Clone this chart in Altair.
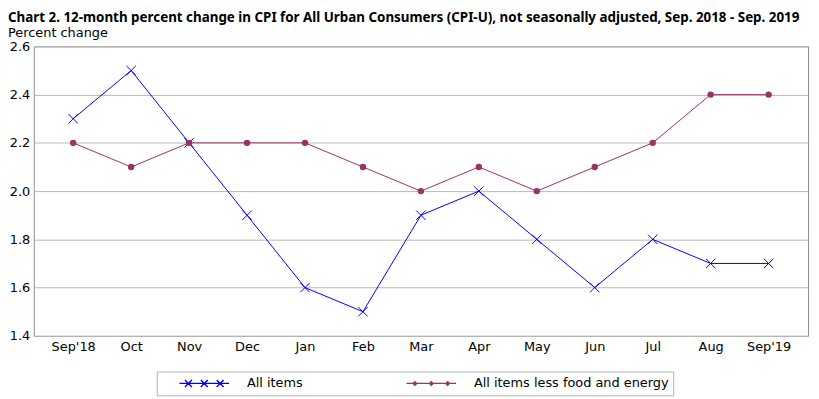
import altair as alt
import pandas as pd

months = ["Sep'18", "Oct", "Nov", "Dec", "Jan", "Feb", "Mar", "Apr", "May", "Jun", "Jul", "Aug", "Sep'19"]
all_items = [2.3, 2.5, 2.2, 1.9, 1.6, 1.5, 1.9, 2.0, 1.8, 1.6, 1.8, 1.7, 1.7]
core = [2.2, 2.1, 2.2, 2.2, 2.2, 2.1, 2.0, 2.1, 2.0, 2.1, 2.2, 2.4, 2.4]
series = ["All items", "All items less food and energy"]
colors = ["#0000ff", "#993366"]
y_ticks = [1.4, 1.6, 1.8, 2.0, 2.2, 2.4, 2.6]

rows = []
for m, a, c in zip(months, all_items, core):
    rows.append({"month": m, "series": series[0], "value": a})
    rows.append({"month": m, "series": series[1], "value": c})
df = pd.DataFrame(rows)

FONT = "DejaVu Sans"
TFONT = "Noto Sans"
XPATH = "M-1,-1L1,1M-1,1L1,-1"
LEG_X = ("M-1,0L1,0"
         "M-0.78,-0.14L-0.50,0.14M-0.78,0.14L-0.50,-0.14"
         "M-0.14,-0.14L0.14,0.14M-0.14,0.14L0.14,-0.14"
         "M0.50,-0.14L0.78,0.14M0.50,0.14L0.78,-0.14")
LEG_O = ("M-1,0L1,0"
         "M-0.73,0L-0.66,-0.07L-0.59,0L-0.66,0.07Z"
         "M-0.07,0L0,-0.07L0.07,0L0,0.07Z"
         "M0.59,0L0.66,-0.07L0.73,0L0.66,0.07Z")

LABEL_EXPR = "datum.label == 'All items' ? datum.label : datum.label + '\u00a0\u00a0\u00a0\u00a0\u00a0'"
legend_def = alt.Legend(labelExpr=LABEL_EXPR)

color_enc = alt.Color("series:N", scale=alt.Scale(domain=series, range=colors), title=None,
                      legend=legend_def)

base = alt.Chart(df).encode(
    x=alt.X("month:N", sort=months, title=None,
            scale=alt.Scale(type="point", padding=0.68),
            axis=alt.Axis(labelAngle=0, ticks=False, domain=False, grid=False,
                          labelPadding=5, labelFontSize=13, labelFont=FONT, labelColor="#000")),
    y=alt.Y("value:Q", title=None,
            scale=alt.Scale(domain=[1.4, 2.6], nice=False, zero=False),
            axis=alt.Axis(values=y_ticks, format=".1f", ticks=False, domain=False,
                          grid=True, gridColor="#b8b8b8", gridWidth=1,
                          labelPadding=4, labelFontSize=13, labelFont=FONT, labelColor="#000")),
    color=color_enc,
)

lines = base.mark_line(strokeWidth=1, opacity=1)
pts_all = base.transform_filter(alt.datum.series == series[0]).mark_point(
    shape=XPATH, size=90, filled=False, strokeWidth=1, opacity=1)
pts_core = base.transform_filter(alt.datum.series == series[1]).mark_point(
    shape="circle", size=42, filled=True, opacity=1)
leg = base.transform_filter("false").mark_point(
    size=2500, filled=False, strokeWidth=1.4, opacity=1).encode(
    shape=alt.Shape("series:N", scale=alt.Scale(domain=series, range=[LEG_X, LEG_O]), title=None,
                    legend=legend_def))

chart = alt.layer(lines, pts_all, pts_core, leg).properties(
    width=781, height=292,
    autosize=alt.AutoSizeParams(type="none"),
    padding={"left": 26, "top": 37, "right": 3, "bottom": 60},
    title=alt.TitleParams(
        text="Chart 2. 12-month percent change in CPI for All Urban Consumers (CPI-U), not seasonally adjusted, Sep. 2018 - Sep. 2019",
        subtitle="Percent change",
        anchor="start", frame="group", dx=-26, offset=0,
        font=TFONT, fontSize=13.5, fontWeight="bold", color="#000",
        subtitleFont=FONT, subtitleFontSize=13, subtitleColor="#000", subtitlePadding=3,
    ),
).configure_view(
    stroke="#8c8c8c", strokeWidth=1
).configure_legend(
    orient="none", legendX=124, legendY=328, direction="horizontal",
    symbolSize=2500, symbolStrokeWidth=1.4, symbolOpacity=1,
    clipHeight=16, labelFont=FONT, labelFontSize=13, labelColor="#000",
    labelOffset=17, labelLimit=400, columnPadding=85, padding=4, symbolOffset=18,
    strokeColor="#b0b0b0", fillColor="#ffffff",
)

chart.save("out.html", embed_options={"renderer": "svg", "actions": False})
